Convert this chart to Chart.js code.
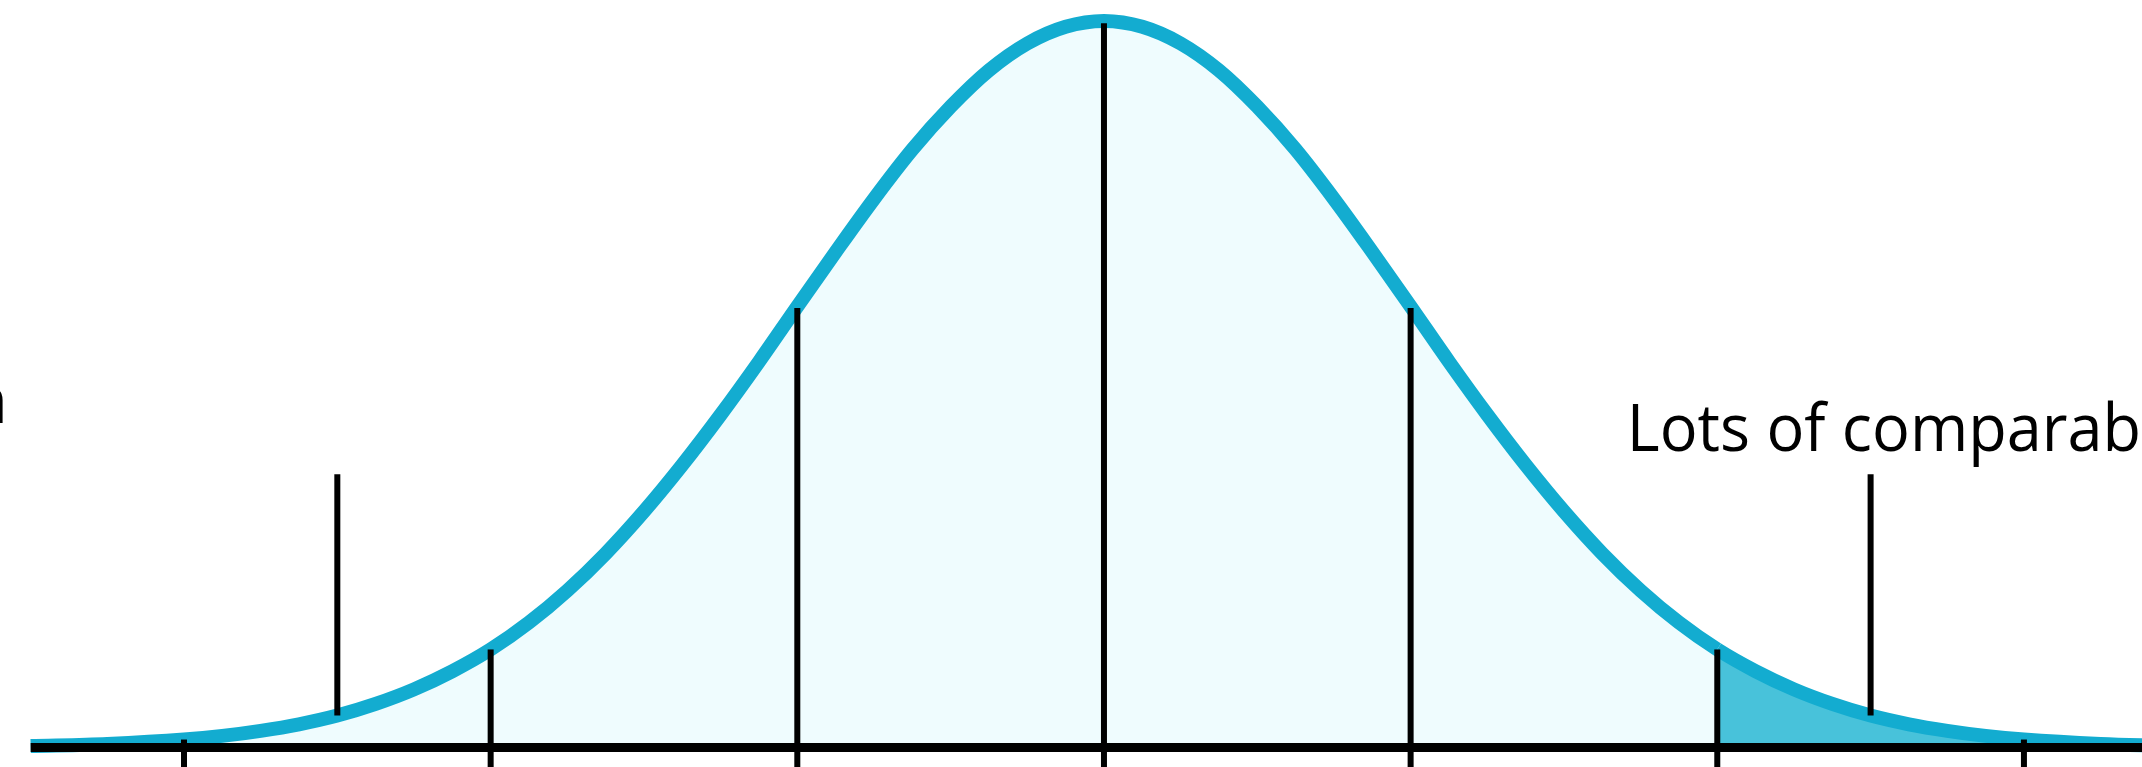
<!DOCTYPE html>
<html>
<head>
<meta charset="utf-8">
<title>Normal curve</title>
<script src="https://cdn.jsdelivr.net/npm/chart.js@4.4.1/dist/chart.umd.min.js"></script>
<style>
  html, body { margin: 0; padding: 0; background: #fff; }
  #wrap { width: 2142px; height: 767px; position: relative; }
</style>
</head>
<body>
<div id="wrap"><canvas id="curveChart"></canvas></div>
<script>
// positions in standard deviations from the mean, heights relative to the peak
const curveX = [-3.5, -3.25, -3, -2.875, -2.75, -2.625, -2.5, -2.375, -2.25, -2.125, -2, -1.875, -1.75, -1.625,
                -1.5, -1.375, -1.25, -1.125, -1, -0.875, -0.75, -0.625, -0.5, -0.375, -0.25, -0.125,
                0, 0.125, 0.25, 0.375, 0.5, 0.625, 0.75, 0.875, 1, 1.125, 1.25, 1.375, 1.5, 1.625,
                1.75, 1.875, 2, 2.125, 2.25, 2.375, 2.5, 2.625, 2.75, 2.875, 3, 3.25, 3.5];
const curveY = [0.002, 0.005, 0.011, 0.016, 0.023, 0.032, 0.044, 0.060, 0.080, 0.105, 0.135, 0.172, 0.216, 0.267,
                0.325, 0.389, 0.458, 0.531, 0.607, 0.682, 0.755, 0.823, 0.882, 0.932, 0.969, 0.992,
                1.000, 0.992, 0.969, 0.932, 0.882, 0.823, 0.755, 0.682, 0.607, 0.531, 0.458, 0.389, 0.325, 0.267,
                0.216, 0.172, 0.135, 0.105, 0.080, 0.060, 0.044, 0.032, 0.023, 0.016, 0.011, 0.005, 0.002];

// shaded tail starts here
const tailStart = 2;

// vertical guides at the tick marks, drawn up to the curve
const guideX = [-3, -2, -1, 0, 1, 2, 3];
const guideTop = [0, 0.135, 0.605, 0.997, 0.605, 0.135, 0];

// pointer lines above the curve for the labels
const pointerX = [-2.5, 2.5];
const pointerBottom = [0.044, 0.044];
const pointerTop = [0.376, 0.376];

// labels (partly off the page in the original)
const labelText = ['n', 'Lots of comparab'];
const labelX = [-3.574, 1.705];
const labelY = [0.447, 0.408];

const lineColor = '#13acd0';
const lightFill = '#effcfe';
const darkFill = '#48c2da';

const overlay = {
  id: 'overlay',
  afterDatasetsDraw(chart) {
    const ctx = chart.ctx;
    const x = chart.scales.x;
    const y = chart.scales.y;
    const bottom = y.getPixelForValue(y.min);

    ctx.save();
    ctx.strokeStyle = '#000';
    ctx.lineCap = 'butt';

    ctx.lineWidth = 6;
    guideX.forEach(function(v, i) {
      const px = x.getPixelForValue(v);
      const top = guideTop[i] > 0 ? y.getPixelForValue(guideTop[i]) : y.getPixelForValue(0) - 8;
      ctx.beginPath();
      ctx.moveTo(px, bottom);
      ctx.lineTo(px, top);
      ctx.stroke();
    });

    pointerX.forEach(function(v, i) {
      const px = x.getPixelForValue(v);
      ctx.beginPath();
      ctx.moveTo(px, y.getPixelForValue(pointerBottom[i]));
      ctx.lineTo(px, y.getPixelForValue(pointerTop[i]));
      ctx.stroke();
    });

    // base line
    ctx.lineWidth = 9;
    const y0 = y.getPixelForValue(0);
    ctx.beginPath();
    ctx.moveTo(x.getPixelForValue(curveX[0]), y0);
    ctx.lineTo(chart.width, y0);
    ctx.stroke();

    ctx.fillStyle = '#000';
    ctx.font = '66px "Open Sans", sans-serif';
    ctx.textBaseline = 'alphabetic';

    // left label: only the end of the word is on the page
    ctx.textAlign = 'right';
    ctx.fillText(labelText[0], x.getPixelForValue(labelX[0]), y.getPixelForValue(labelY[0]));

    // right label runs to the page edge
    ctx.textAlign = 'left';
    const px = x.getPixelForValue(labelX[1]);
    const py = y.getPixelForValue(labelY[1]);
    const w = ctx.measureText(labelText[1]).width;
    const sx = (chart.width - 1 - px) / w;
    ctx.translate(px, py);
    ctx.scale(sx, 1);
    ctx.fillText(labelText[1], 0, 0);
    ctx.restore();
  }
};

const points = curveX.map(function(v, i) { return { x: v, y: curveY[i] }; });

const ctx = document.getElementById('curveChart').getContext('2d');
const curveChart = new Chart(ctx, {
  type: 'line',
  data: {
    datasets: [{
      data: points,
      borderColor: lineColor,
      borderWidth: 14,
      backgroundColor: lightFill,
      fill: 'origin',
      pointRadius: 0,
      cubicInterpolationMode: 'monotone',
      segment: {
        backgroundColor: function(c) {
          return c.p0.parsed.x >= tailStart ? darkFill : lightFill;
        }
      }
    }]
  },
  options: {
    responsive: true,
    maintainAspectRatio: false,
    animation: false,
    layout: { padding: 0 },
    scales: {
      x: { type: 'linear', min: -3.6, max: 3.385, display: false },
      y: { min: -0.0268, max: 1.0289, display: false }
    },
    plugins: {
      legend: { display: false },
      tooltip: { enabled: false }
    }
  },
  plugins: [overlay]
});
</script>
</body>
</html>
